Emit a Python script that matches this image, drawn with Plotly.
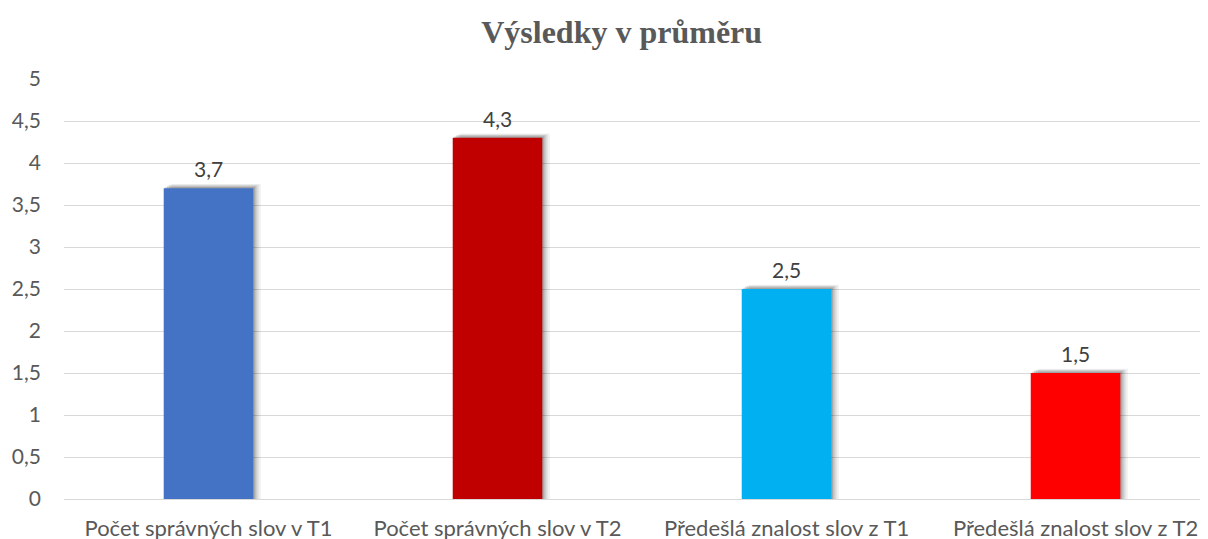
import plotly.graph_objects as go

categories = ["Počet správných slov v T1", "Počet správných slov v T2",
              "Předešlá znalost slov z T1", "Předešlá znalost slov z T2"]
values = [3.7, 4.3, 2.5, 1.5]
labels = ["3,7", "4,3", "2,5", "1,5"]
colors = ["#4472C4", "#C00000", "#00B0F0", "#FF0000"]
tick_vals = [0, 0.5, 1, 1.5, 2, 2.5, 3, 3.5, 4, 4.5, 5]
tick_text = ["0", "0,5", "1", "1,5", "2", "2,5", "3", "3,5", "4", "4,5", "5"]

bw = 0.31
xs = list(range(len(categories)))
fig = go.Figure()
# soft shadow layers
for dx, dy, alpha in [(0.026, 0.05, 0.06), (0.018, 0.04, 0.09), (0.011, 0.03, 0.12), (0.005, 0.015, 0.15)]:
    fig.add_trace(go.Bar(
        x=xs, y=[v + dy for v in values],
        width=bw, offset=-bw / 2 + dx,
        marker=dict(color=f"rgba(0,0,0,{alpha})", line=dict(width=0)),
        hoverinfo="skip", showlegend=False))
fig.add_trace(go.Bar(
    x=xs, y=values, width=bw, offset=-bw / 2,
    marker=dict(color=colors, line=dict(width=0)),
    showlegend=False))

for xi, v, t in zip(xs, values, labels):
    fig.add_annotation(x=xi, y=v, text=t, showarrow=False, yanchor="bottom", yshift=5,
                       font=dict(family="Lato, Open Sans, sans-serif", size=21, color="#404040"))

fig.update_layout(
    width=1208, height=539, barmode="overlay",
    paper_bgcolor="white", plot_bgcolor="white",
    margin=dict(l=56, r=0, t=71, b=48),
    title=dict(text="<b>Výsledky v průměru</b>", x=0.508, xanchor="center", y=0.955, yanchor="middle",
               font=dict(family="Liberation Serif, Times New Roman, serif", size=32, color="#595959")),
    xaxis=dict(tickvals=xs, ticktext=categories,
               range=[-0.5, 3.486], showgrid=False, zeroline=False, showline=False,
               tickfont=dict(family="Lato, Open Sans, sans-serif", size=22, color="#595959"),
               ticks="", ticklabelstandoff=14),
    yaxis=dict(range=[0, 5], tickvals=tick_vals, ticktext=tick_text,
               showgrid=True, gridcolor="#D9D9D9", gridwidth=1, zeroline=True,
               zerolinecolor="#D9D9D9", zerolinewidth=1,
               tickfont=dict(family="Lato, Open Sans, sans-serif", size=21, color="#595959"),
               ticks="", ticklabelstandoff=22),
    font=dict(family="Lato, Open Sans, sans-serif"),
)
fig.write_html("out.html")
